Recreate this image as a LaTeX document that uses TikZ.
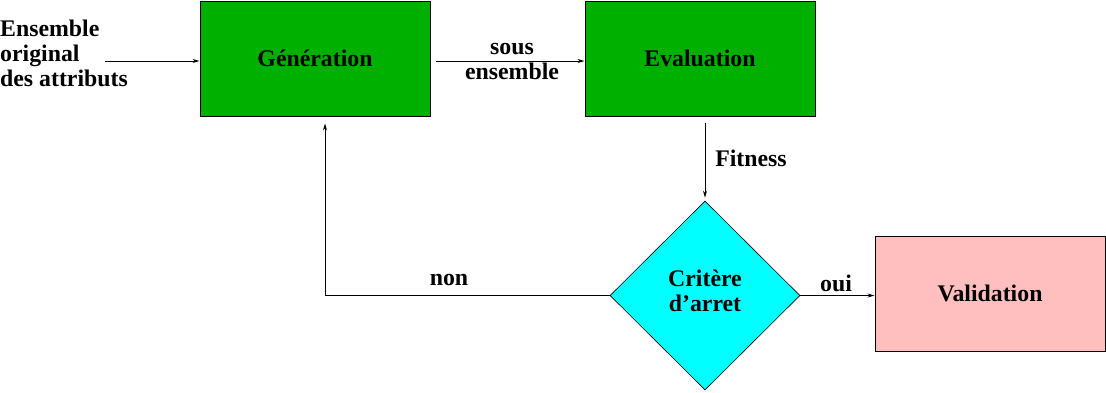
\documentclass[tikz,border=0pt]{standalone}
\usepackage{fontspec}
\setmainfont{Liberation Serif}
\usetikzlibrary{shapes.geometric,arrows.meta,calc}
\definecolor{boxgreen}{RGB}{0,176,0}
\definecolor{critcyan}{RGB}{0,255,255}
\definecolor{valpink}{RGB}{255,191,191}
\begin{document}
\begin{tikzpicture}[x=1pt,y=-1pt,
  every node/.style={font=\bfseries\fontsize{23.8}{25}\selectfont},
  procbox/.style={draw=black,line width=1pt,minimum width=230pt,minimum height=115pt,inner sep=0pt},
  critbox/.style={diamond,draw=black,line width=0.6pt,fill=critcyan,minimum width=190pt,minimum height=189pt,inner sep=0pt},
  lbl/.style={align=center,inner sep=0pt},
  flow/.style={draw=black,line width=0.8pt,-{Stealth[length=7pt,width=4pt]}}]
\useasboundingbox (0,0) rectangle (1106,392);
\node[procbox,fill=boxgreen] (gen) at (315,58.5) {Génération};
\node[procbox,fill=boxgreen] (eval) at (700,58.5) {Evaluation};
\node[critbox] (crit) at (705,295.5) {};
\node[lbl] (crittxt) at (705,291) {Critère\\d’arret};
\node[procbox,fill=valpink] (val) at (990,293.5) {Validation};
\node[lbl,align=left,anchor=west] (ens) at (0,53.5) {Ensemble\\original\\des attributs};
\coordinate (inp) at (105,61);
\node[lbl] (sous) at (512,62) {sous\\ensemble};
\node[lbl] (fit) at (751,158) {Fitness};
\node[lbl] (non) at (449,280) {non};
\node[lbl] (oui) at (836,283) {oui};
\draw[flow] (inp) -- (inp -| gen.west);
\draw[flow,shorten <=5pt] ($(gen.east)+(0,2.5)$) -- ($(eval.west)+(0,2.5)$);
\draw[flow,shorten <=6pt,shorten >=3pt] ($(eval.south)+(5,0)$) -- (crit.north);
\draw[flow,shorten >=7pt] (crit.west) -| ($(gen.south)+(10,0)$);
\draw[flow] (crit.east) -- (crit.east -| val.west);
\end{tikzpicture}
\end{document}
